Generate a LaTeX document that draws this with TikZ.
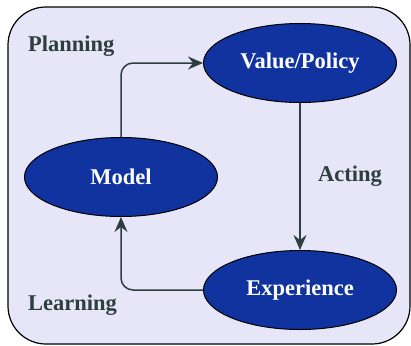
\documentclass[tikz,border=0pt]{standalone}
\usepackage{fontspec}
\setmainfont{Liberation Serif}
\usetikzlibrary{shapes.geometric,arrows.meta}
\definecolor{panelbg}{RGB}{230,230,248}
\definecolor{nodeblue}{RGB}{17,51,160}
\definecolor{slate}{RGB}{45,62,62}
\tikzset{
  stage/.style={ellipse, draw=black, line width=1pt, fill=nodeblue,
    minimum width=193pt, minimum height=79pt, inner sep=0pt,
    text=white, font=\fontsize{22.5}{24}\selectfont\bfseries},
  phase/.style={text=slate, font=\fontsize{22.5}{24}\selectfont\bfseries, inner sep=0pt},
  flow/.style={draw=slate, line width=1.5pt, rounded corners=12pt,
    -{Stealth[length=15pt,width=13pt,inset=5pt]}}
}
\begin{document}
\begin{tikzpicture}[x=1pt,y=-1pt]
  \useasboundingbox (0,0) rectangle (411,345);
  \draw[fill=panelbg, line width=1.2pt, rounded corners=38pt] (8,7) rectangle (410,344);
  \node[stage] (vp) at (300,63) {Value/Policy};
  \node[stage] (model) at (121,177) {Model};
  \node[stage] (exp) at (300,290) {Experience};
  \node[phase, anchor=west] (plan) at (28,46) {Planning};
  \node[phase, anchor=west] (act) at (318,176) {Acting};
  \node[phase, anchor=west] (learn) at (28,305) {Learning};
  \draw[flow] (model.north) |- (vp.west);
  \draw[flow] (vp.south) -- (exp.north);
  \draw[flow] (exp.west) -| (model.south);
\end{tikzpicture}
\end{document}
